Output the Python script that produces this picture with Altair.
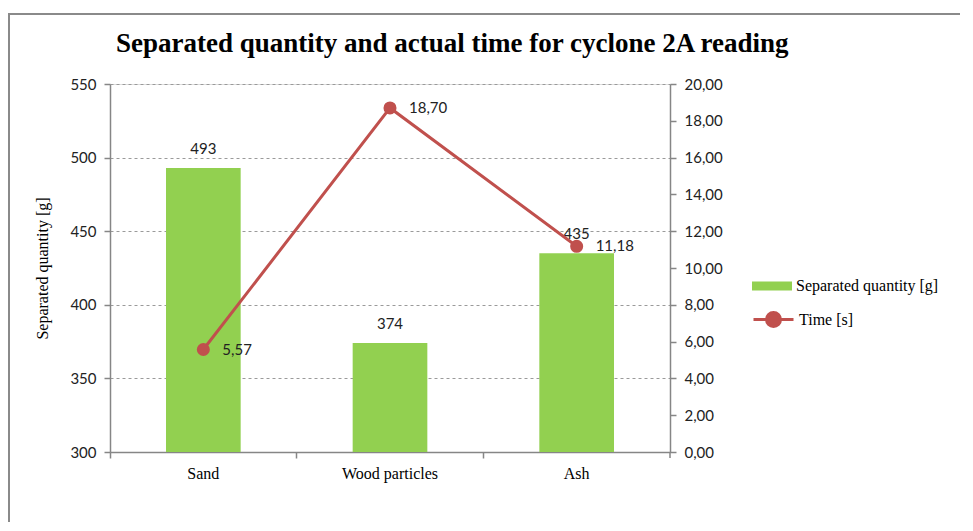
import altair as alt
import pandas as pd

categories = ["Sand", "Wood particles", "Ash"]
quantities = [493, 374, 435]
times = [5.57, 18.70, 11.18]
title_text = "Separated quantity and actual time for cyclone 2A reading"
bar_series = "Separated quantity [g]"
line_series = "Time [s]"

df = pd.DataFrame({"material": categories, "quantity": quantities, "time": times})

W, H = 560, 368
PL, PT = 102, 76
GREEN = "#92D050"
RED = "#C0504D"
AXGREY = "#868686"
SANS = "Lato"
SERIF = "Liberation Serif"

x_enc = alt.X(
    "material:N", sort=categories, title=None,
    scale=alt.Scale(paddingInner=0, paddingOuter=0),
    axis=alt.Axis(bandPosition=0, labelAngle=0, labelFont=SERIF, labelFontSize=16,
                  labelColor="black", labelPadding=7, domainColor=AXGREY, domainWidth=1.5,
                  tickColor=AXGREY, tickSize=6, tickWidth=1.5, grid=False),
)

q_axis = alt.Axis(values=[300, 350, 400, 450, 500, 550], labelFont=SANS, labelFontSize=15,
                  labelColor="#222", labelPadding=8, titleFont=SERIF, titleFontSize=16,
                  titleFontWeight="normal", titleColor="black", titlePadding=19,
                  domainColor=AXGREY, domainWidth=1.5, tickColor=AXGREY, tickSize=6,
                  tickWidth=1.5, grid=True, gridColor="#9a9a9a", gridDash=[3, 3],
                  gridWidth=1, labelOverlap=False)
q_scale = alt.Scale(domain=[300, 550], zero=False, nice=False)

t_axis = alt.Axis(orient="right", values=[0, 2, 4, 6, 8, 10, 12, 14, 16, 18, 20],
                  labelExpr="replace(format(datum.value, '.2f'), '.', ',')",
                  labelFont=SANS, labelFontSize=15, labelColor="#222", labelPadding=8,
                  domainColor=AXGREY, domainWidth=1.5, tickColor=AXGREY, tickSize=6,
                  tickWidth=1.5, grid=False, labelOverlap=False, tickCount=11)
t_scale = alt.Scale(domain=[0, 20], nice=False)

bars = alt.Chart(df).mark_bar(width=alt.RelativeBandSize(0.4), color=GREEN).encode(
    x=x_enc,
    y=alt.Y("quantity:Q", title="Separated quantity [g]", scale=q_scale, axis=q_axis),
    y2=alt.datum(300),
    color=alt.Color(
        "s:N",
        scale=alt.Scale(domain=[bar_series], range=[GREEN]),
        legend=alt.Legend(orient="none", legendX=642, legendY=182, title=None,
                          symbolType="M-1,-0.22H1V0.22H-1Z", symbolSize=1600,
                          symbolStrokeWidth=0, labelFont=SERIF, labelFontSize=16,
                          labelColor="black", labelOffset=4, padding=0),
    ),
).transform_calculate(s=f"'{bar_series}'")

bar_text = alt.Chart(df).mark_text(font=SANS, fontSize=15, color="#222", dy=-19,
                                   baseline="middle").encode(
    x=x_enc,
    y=alt.Y("quantity:Q", title="Separated quantity [g]", scale=q_scale, axis=q_axis),
    text=alt.Text("quantity:Q", format="d"),
)

line = alt.Chart(df).mark_line(
    strokeWidth=3, color=RED,
    point=alt.OverlayMarkDef(filled=True, size=170, color=RED, opacity=1),
).encode(
    x=x_enc,
    y=alt.Y("time:Q", title=None, scale=t_scale, axis=t_axis),
    color=alt.Color(
        "s:N",
        scale=alt.Scale(domain=[line_series], range=[RED]),
        legend=alt.Legend(orient="none", legendX=642, legendY=214, title=None,
                          symbolType="M-1,0H-0.35A0.35,0.35 0 1,1 0.35,0H1M0.35,0A0.35,0.35 0 1,1 -0.35,0",
                          symbolSize=1600, symbolStrokeWidth=3, symbolFillColor=RED,
                          symbolStrokeColor=RED, labelFont=SERIF, labelFontSize=16,
                          labelColor="black", labelOffset=4, padding=0),
    ),
).transform_calculate(s=f"'{line_series}'")

line_text = alt.Chart(df).mark_text(font=SANS, fontSize=15, color="#222", dx=19,
                                    align="left", baseline="middle").encode(
    x=x_enc,
    y=alt.Y("time:Q", title=None, scale=t_scale, axis=t_axis),
    text=alt.Text("tlabel:N"),
).transform_calculate(tlabel="replace(format(datum.time, '.2f'), '.', ',')")

one = alt.Data(values=[{"a": 1}])
frame_top = alt.Chart(one).mark_rule(color="#8a8a8a", strokeWidth=2).encode(
    x=alt.value(-PL), x2=alt.value(W + 400), y=alt.value(-PT + 6))
frame_left = alt.Chart(one).mark_rule(color="#8a8a8a", strokeWidth=2).encode(
    x=alt.value(-PL + 1), y=alt.value(-PT + 5), y2=alt.value(H + 200))
end_tick = alt.Chart(one).mark_rule(color=AXGREY, strokeWidth=1.5).encode(
    x=alt.value(W), y=alt.value(H), y2=alt.value(H + 6))

left_layer = alt.layer(bars, bar_text)
right_layer = alt.layer(line, line_text)

chart = alt.layer(left_layer, right_layer, frame_top, frame_left, end_tick).resolve_scale(
    y="independent", color="independent"
).properties(
    width=W, height=H,
    title=alt.TitleParams(title_text, font=SERIF, fontSize=27, fontWeight="bold",
                          color="black", anchor="start", dx=109, offset=-46),
    padding={"left": PL, "top": PT, "right": 290, "bottom": 70},
    autosize=alt.AutoSizeParams(type="none"),
).configure_view(stroke=None).configure(background="white")

chart.save("out.html", embed_options={"renderer": "svg", "actions": False})
